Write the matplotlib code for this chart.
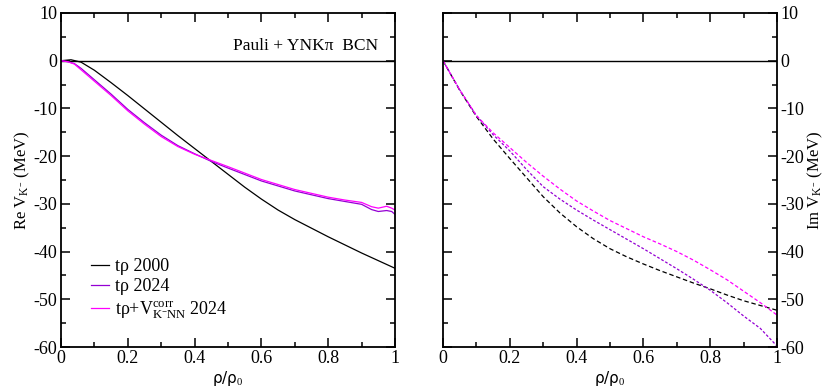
import numpy as np
import matplotlib
matplotlib.use('Agg')
import matplotlib.pyplot as plt

plt.rcParams['font.family'] = ['Liberation Serif', 'DejaVu Serif']
plt.rcParams['mathtext.fontset'] = 'custom'
plt.rcParams['mathtext.rm'] = 'Liberation Serif'
plt.rcParams['mathtext.it'] = 'Liberation Serif:italic'
plt.rcParams['axes.unicode_minus'] = False
plt.rcParams['font.size'] = 13

# real part (left panel)
x_re_2000 = [0, 0.03, 0.06, 0.1, 0.15, 0.2, 0.25, 0.3, 0.35, 0.4, 0.45, 0.5, 0.55,
             0.6, 0.65, 0.7, 0.8, 0.9, 1.0]
re_2000 = [0, 0.2, -0.3, -2.0, -4.6, -7.3, -10.1, -12.9, -15.7, -18.4, -21.1, -23.8, -26.5,
           -29.0, -31.3, -33.3, -36.9, -40.3, -43.5]

x_re_2024 = [0, 0.02, 0.04, 0.06, 0.1, 0.15, 0.2, 0.25, 0.3, 0.35, 0.4, 0.45, 0.5,
             0.6, 0.7, 0.8, 0.85, 0.9, 0.93, 0.95, 0.975, 0.99, 1.0]
re_2024 = [0, -0.2, -0.6, -1.6, -4.0, -7.0, -10.2, -13.0, -15.6, -17.8, -19.5, -21.1, -22.5,
           -25.2, -27.3, -28.9, -29.5, -30.1, -31.2, -31.6, -31.4, -31.6, -32.2]
re_corr = [0, -0.2, -0.7, -1.9, -4.3, -7.3, -10.5, -13.3, -15.9, -18.0, -19.6, -20.9, -22.2,
           -24.9, -27.0, -28.6, -29.2, -29.7, -30.6, -30.9, -30.5, -30.9, -31.3]

# imaginary part (right panel)
x_im = [0, 0.05, 0.1, 0.15, 0.2, 0.25, 0.3, 0.35, 0.4, 0.45, 0.5, 0.55, 0.6, 0.65,
        0.7, 0.75, 0.8, 0.85, 0.9, 0.95, 1.0]
im_2000 = [0, -6.2, -11.7, -16.4, -20.5, -24.5, -28.5, -31.9, -34.8, -37.3, -39.4, -41.1,
           -42.6, -44.0, -45.3, -46.6, -47.8, -49.1, -50.3, -51.3, -52.3]
im_2024 = [0, -6.1, -11.5, -15.5, -18.9, -22.8, -26.4, -29.0, -31.3, -33.4, -35.4, -37.4,
           -39.4, -41.5, -43.6, -45.8, -48.1, -50.7, -53.5, -56.1, -59.8]
im_corr = [0, -6.1, -11.5, -15.1, -18.2, -21.3, -24.2, -26.9, -29.4, -31.5, -33.5, -35.2,
           -36.9, -38.4, -40.0, -41.8, -43.8, -45.9, -48.3, -50.7, -53.3]

labels = ['tρ 2000', 'tρ 2024',
          r'tρ+V$^{\mathrm{corr}}_{\mathrm{K^{-}NN}}$ 2024']
c_black, c_purple, c_magenta = 'black', '#9400d3', '#ff00ff'

fig = plt.figure(figsize=(8.29, 3.87), dpi=100)
ax1 = fig.add_axes([61 / 829, 40 / 387, 334 / 829, 334 / 387])
ax2 = fig.add_axes([443 / 829, 40 / 387, 334 / 829, 334 / 387])

for ax in (ax1, ax2):
    ax.set_xlim(0, 1)
    ax.set_ylim(-60, 10)
    ax.set_xticks(np.arange(0, 1.01, 0.2))
    ax.set_xticks(np.arange(0.1, 1.0, 0.2), minor=True)
    ax.set_yticks(np.arange(-60, 11, 10))
    ax.set_yticks(np.arange(-55, 10, 10), minor=True)
    ax.set_xticklabels(['0', '0.2', '0.4', '0.6', '0.8', '1'])
    ax.tick_params(which='both', direction='in', top=True, right=True, width=1.1, pad=2.5)
    ax.tick_params(which='major', length=6.7)
    ax.tick_params(which='minor', length=3.6)
    for s in ax.spines.values():
        s.set_linewidth(1.3)
    ax.axhline(0, color='black', lw=1.0)
    ax.set_xlabel(r'ρ/ρ$_0$', family='DejaVu Sans', fontsize=11, labelpad=1)

ax1.plot(x_re_2000, re_2000, color=c_black, lw=0.9, label=labels[0])
ax1.plot(x_re_2024, re_2024, color=c_purple, lw=0.9, label=labels[1])
ax1.plot(x_re_2024, re_corr, color=c_magenta, lw=0.9, label=labels[2])
ax1.set_ylabel(r'Re V$_{\mathrm{K^{-}}}$ (MeV)', fontsize=12, labelpad=1)
ax1.text(0.95, 3.1, 'Pauli + YNKπ  BCN', ha='right', va='center', fontsize=12.5)
ax1.legend(loc='upper left', bbox_to_anchor=(0.09, 0.267), frameon=False,
           handlelength=1.0, handletextpad=0.35, labelspacing=0.2,
           borderpad=0, borderaxespad=0)

ax2.plot(x_im, im_2000, color=c_black, lw=0.9, dashes=(3.6, 2.2))
ax2.plot(x_im, im_2024, color=c_purple, lw=0.9, dashes=(2.2, 1.5))
ax2.plot(x_im, im_corr, color=c_magenta, lw=0.9, dashes=(2.9, 1.8))
ax2.yaxis.tick_right()
ax2.tick_params(which='both', left=True, labelleft=False, labelright=True)
ax2.yaxis.set_label_position('right')
ax2.set_ylabel(r'Im V$_{\mathrm{K^{-}}}$ (MeV)', fontsize=12, labelpad=1)

fig.savefig('out.png', dpi=100)
